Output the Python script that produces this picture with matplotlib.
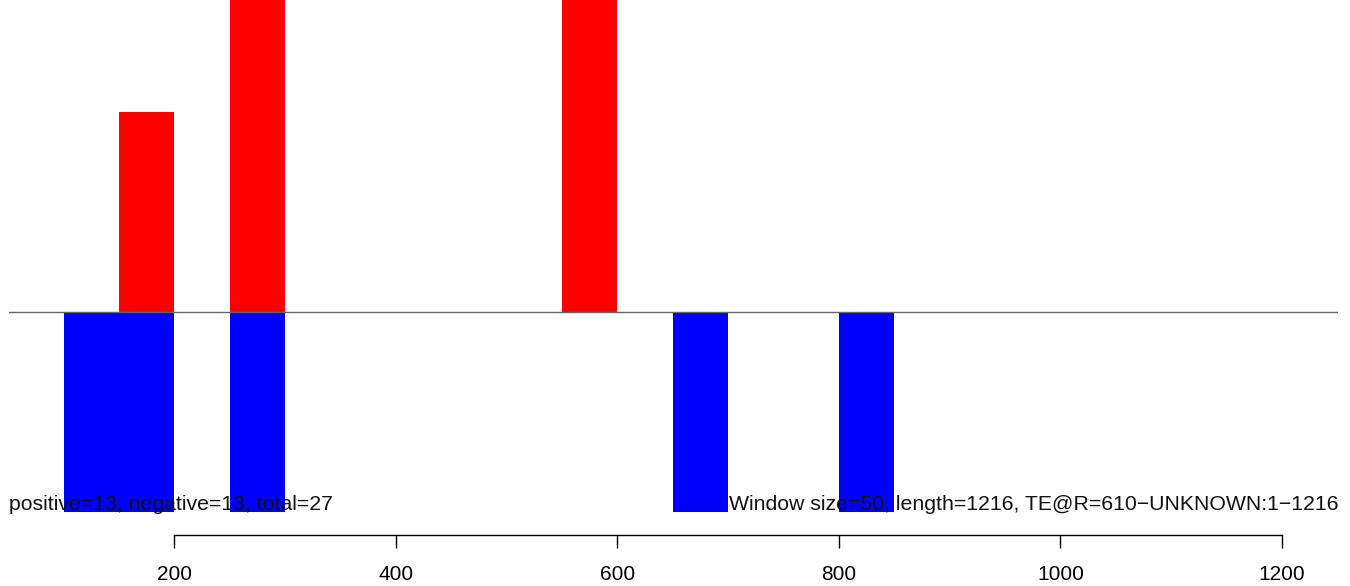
import matplotlib.pyplot as plt

plt.rcParams['font.family'] = ['Liberation Sans', 'DejaVu Sans']

# window starts (window size 50) and read counts per window
window = 50
pos_start = [150, 250, 550]
pos_count = [2, 5, 6]
neg_start = [100, 150, 250, 650, 800]
neg_count = [3, 3, 3, 2, 2]

xticks = [200, 400, 600, 800, 1000, 1200]
left_label = "positive=13, negative=13, total=27"
right_label = "Window size=50, length=1216, TE@R=610\u2212UNKNOWN:1\u22121216"

fig = plt.figure(figsize=(13.5, 5.86), dpi=100)
ax = fig.add_axes([9.3 / 1350, (586 - 511.7) / 586, (1338.3 - 9.3) / 1350, 511.7 / 586])

ax.bar(pos_start, pos_count, width=window, align='edge', color='#ff0000', zorder=2)
ax.bar(neg_start, [-c for c in neg_count], width=window, align='edge', color='#0000ff', zorder=2)
ax.axhline(0, color='#666666', lw=1, zorder=3)

ax.set_xlim(51, 1251)
ax.set_ylim(-2.0, 3.125)

# labels sit on top of the bars
ax.text(0, 0.003, left_label, transform=ax.transAxes, ha='left', va='baseline',
        fontsize=15.3, color='#111111', zorder=4)
ax.text(1, 0.003, right_label, transform=ax.transAxes, ha='right', va='baseline',
        fontsize=15.3, color='#111111', zorder=4)

for s in ['top', 'right', 'left']:
    ax.spines[s].set_visible(False)
ax.spines['bottom'].set_position(('outward', 16.6))
ax.spines['bottom'].set_bounds(200, 1200)
ax.spines['bottom'].set_linewidth(1.0)
ax.set_yticks([])
ax.set_xticks(xticks)
ax.set_xticklabels([str(t) for t in xticks])
ax.tick_params(axis='x', length=9.5, width=1.0, pad=12.5, labelsize=15)

fig.savefig('out.png', dpi=100)
